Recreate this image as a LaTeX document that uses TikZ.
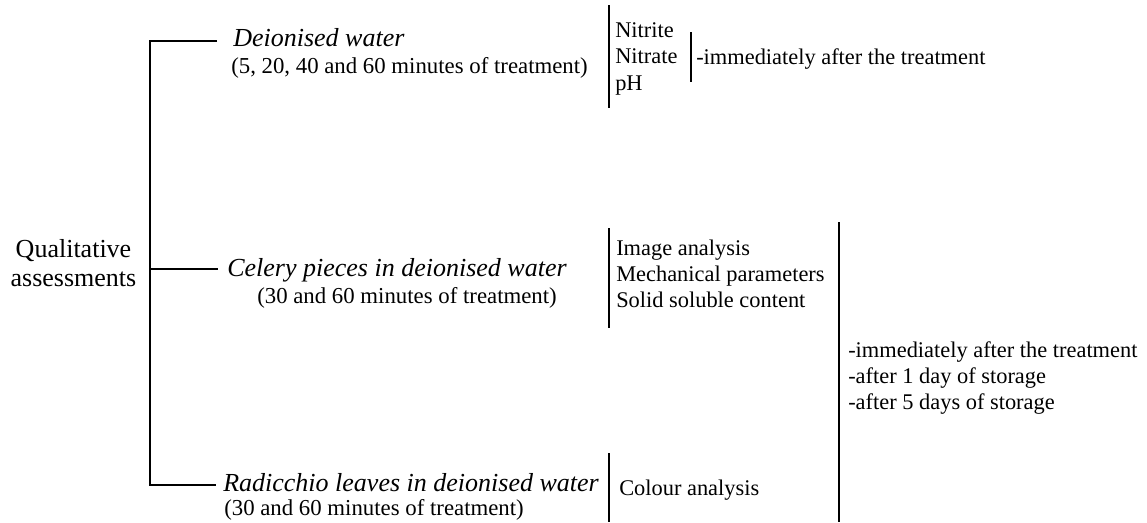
\documentclass[tikz,border=0pt]{standalone}
\usepackage{fontspec}
\setmainfont{Liberation Serif}
\begin{document}
\begin{tikzpicture}[x=0.75pt,y=-0.75pt,
  rule/.style={line width=1.4pt},
  head/.style={anchor=base west,inner sep=0pt,font=\fontsize{19.5}{23}\selectfont\itshape},
  sub/.style={anchor=base west,inner sep=0pt,font=\fontsize{17.1}{20}\selectfont},
  item/.style={anchor=base west,inner sep=0pt,font=\fontsize{16.8}{20}\selectfont}]
\useasboundingbox (0,0) rectangle (1147,522);
% root
\node[align=center,inner sep=0pt,font=\fontsize{19.5}{22}\selectfont] (root) at (73.5,263) {Qualitative\\assessments};
% bracket
\coordinate (btop) at (150,41);
\coordinate (bmid) at (150,269);
\coordinate (bbot) at (150,485);
\coordinate (etop) at (217,41);
\coordinate (emid) at (218,269);
\coordinate (ebot) at (216,485);
\draw[rule] (etop) -- (btop) -- (bbot) -- (ebot);
\draw[rule] (bmid) -- (emid);
% branch 1
\node[head] (h1) at (233,46) {Deionised water};
\node[sub] (s1) at (231,73) {(5, 20, 40 and 60 minutes of treatment)};
\coordinate (v1a) at (609,5); \coordinate (v1b) at (609,108);
\draw[rule] (v1a) -- (v1b);
\node[item] (i11) at (615,37) {Nitrite};
\node[item] (i12) at (615,63.5) {Nitrate};
\node[item] (i13) at (615,90) {pH};
\coordinate (v2a) at (691,32); \coordinate (v2b) at (691,82);
\draw[rule] (v2a) -- (v2b);
\node[item] (t1) at (696,64) {-immediately after the treatment};
% branch 2
\node[head] (h2) at (227,276) {Celery pieces in deionised water};
\node[sub] (s2) at (257,303) {(30 and 60 minutes of treatment)};
\coordinate (v3a) at (609,228); \coordinate (v3b) at (609,328);
\draw[rule] (v3a) -- (v3b);
\node[item] (i21) at (616,255) {Image analysis};
\node[item] (i22) at (616,281) {Mechanical parameters};
\node[item] (i23) at (616,307) {Solid soluble content};
\coordinate (v4a) at (839,222); \coordinate (v4b) at (839,522);
\draw[rule] (v4a) -- (v4b);
\node[item] (t21) at (848,357) {-immediately after the treatment};
\node[item] (t22) at (848,383) {-after 1 day of storage};
\node[item] (t23) at (848,409) {-after 5 days of storage};
% branch 3
\node[head] (h3) at (223,491) {Radicchio leaves in deionised water};
\node[sub] (s3) at (224,515) {(30 and 60 minutes of treatment)};
\coordinate (v5a) at (609,453); \coordinate (v5b) at (609,522);
\draw[rule] (v5a) -- (v5b);
\node[item] (i31) at (619,495) {Colour analysis};
\end{tikzpicture}
\end{document}
